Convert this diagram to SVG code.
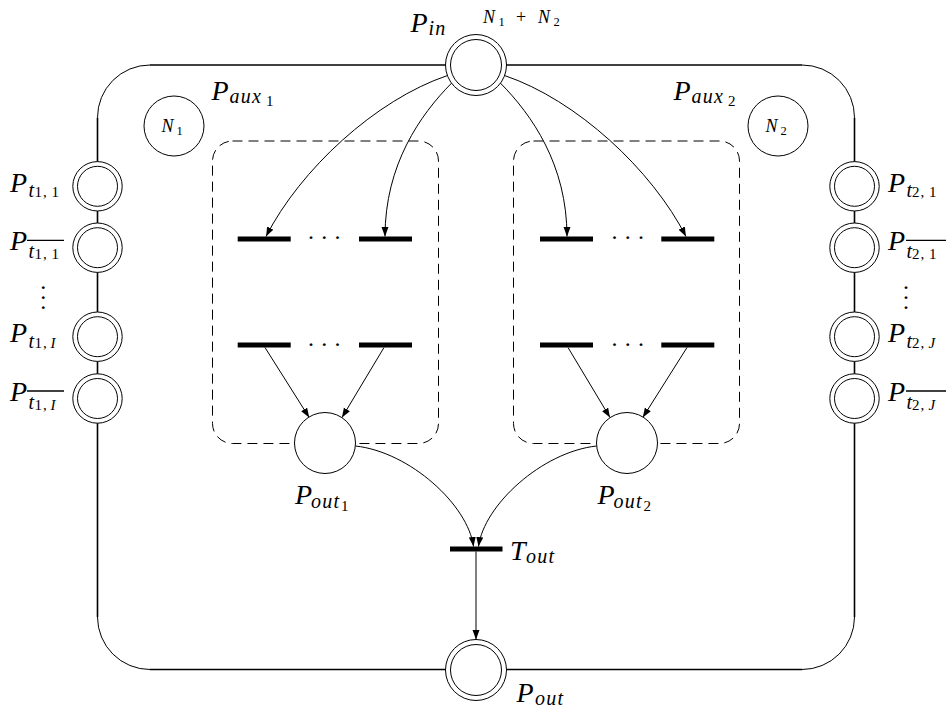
<svg xmlns="http://www.w3.org/2000/svg" width="946" height="713" viewBox="0 0 946 713">
<style>
text{font-family:"Liberation Serif","Times New Roman",serif;font-style:italic;fill:#000}
.m{font-size:28px}
.s{font-size:20px;letter-spacing:1.3px}
.ss{font-size:15px}
.n{font-size:18px}
.ns{font-size:12.5px}
.u{font-style:normal}
.dots{font-style:normal;font-size:24px;text-anchor:middle}
.frame{fill:none;stroke:#000;stroke-width:1.6}
.arc{fill:none;stroke:#000;stroke-width:1}
.place{fill:#fff;stroke:#000;stroke-width:1}
.inner{fill:none;stroke:#000;stroke-width:1}
.bar{fill:#000}
.box{fill:none;stroke:#000;stroke-width:1;stroke-dasharray:10 6}
.arr{fill:none;stroke:#000;stroke-width:1;marker-end:url(#ah)}
.ovl{stroke:#000;stroke-width:1.3}
</style>
<defs>
<marker id="ah" markerUnits="userSpaceOnUse" markerWidth="10" markerHeight="8" refX="9.5" refY="3.5" orient="auto">
<path d="M0,0 L9.5,3.5 L0,7 Z" fill="#000"/>
</marker>
</defs>
<rect width="946" height="713" fill="#fff"/>
<g id="frame">
<line class="frame" x1="150" y1="65" x2="802" y2="65"/>
<line class="frame" x1="150" y1="669.5" x2="802" y2="669.5"/>
<line class="frame" x1="97.5" y1="117.5" x2="97.5" y2="617"/>
<line class="frame" x1="854.5" y1="117.5" x2="854.5" y2="617"/>
<path class="arc" d="M97.5,117.5 A52.5,52.5 0 0 1 150,65"/>
<path class="arc" d="M802,65 A52.5,52.5 0 0 1 854.5,117.5"/>
<path class="arc" d="M854.5,617 A52.5,52.5 0 0 1 802,669.5"/>
<path class="arc" d="M150,669.5 A52.5,52.5 0 0 1 97.5,617"/>
</g>
<g id="box1"><rect class="box" x="212.5" y="141" width="226" height="302.5" rx="20"/></g>
<g id="box2"><rect class="box" x="513.5" y="141" width="226" height="302.5" rx="20"/></g>
<g id="connectors">
<path class="arr" d="M447.5,75.5 C375,100 300,170 266,236.5"/>
<path class="arr" d="M451.7,83 C420,115 385,165 385,236.5"/>
<path class="arr" d="M504.5,75.5 C577,100 652,170 686,236.5"/>
<path class="arr" d="M500.3,83 C532,115 567,165 567,236.5"/>
<line class="arr" x1="265" y1="347.5" x2="309.2" y2="417.5"/>
<line class="arr" x1="384" y1="347.5" x2="342" y2="417.5"/>
<line class="arr" x1="568" y1="347.5" x2="610" y2="417.5"/>
<line class="arr" x1="687" y1="347.5" x2="642.8" y2="417.5"/>
<path class="arr" d="M355.5,446 C410,452 468,505 473.5,546.5"/>
<path class="arr" d="M596.5,446 C542,452 484,505 478.5,546.5"/>
<line class="arr" x1="476" y1="551.5" x2="476" y2="639.5"/>
</g>
<g id="Pin">
<circle class="place" cx="476" cy="65" r="30.5"/><circle class="inner" cx="476" cy="65" r="25.5"/>
<text class="m"><tspan x="410.5" y="31.5">P</tspan><tspan class="s" x="428.5" y="35">in</tspan></text>
<text class="n"><tspan x="483" y="23">N</tspan><tspan class="ns u" x="498.5" y="26">1</tspan><tspan class="u" x="516" y="23">+</tspan><tspan x="538" y="23">N</tspan><tspan class="ns u" x="553.5" y="26">2</tspan></text>
</g>
<g id="Pout">
<circle class="place" cx="476" cy="670" r="30.5"/><circle class="inner" cx="476" cy="670" r="25.5"/>
<text class="m"><tspan x="516.5" y="701.5">P</tspan><tspan class="s" x="535" y="705">out</tspan></text>
</g>
<g id="Paux1">
<circle class="place" cx="174" cy="126" r="30"/>
<text class="n"><tspan x="161.5" y="132">N</tspan><tspan class="ns u" x="176.5" y="135">1</tspan></text>
<text class="m"><tspan x="211.5" y="100">P</tspan><tspan class="s" x="229.5" y="103">aux</tspan><tspan class="ss u" x="266" y="106">1</tspan></text>
</g>
<g id="Paux2">
<circle class="place" cx="778" cy="126" r="30"/>
<text class="n"><tspan x="765.5" y="132">N</tspan><tspan class="ns u" x="780.5" y="135">2</tspan></text>
<text class="m"><tspan x="673.5" y="100">P</tspan><tspan class="s" x="691.5" y="103">aux</tspan><tspan class="ss u" x="728" y="106">2</tspan></text>
</g>
<g id="Pt11">
<circle class="place" cx="97.5" cy="186.3" r="24.7"/><circle class="inner" cx="97.5" cy="186.3" r="20"/>
<text class="m"><tspan x="10" y="191.5">P</tspan><tspan class="s" x="28.5" y="197">t</tspan><tspan class="ss u" x="34.5 43 51.5" y="197">1,1</tspan></text>
</g>
<g id="Pt11bar">
<circle class="place" cx="97.5" cy="247.7" r="24.7"/><circle class="inner" cx="97.5" cy="247.7" r="20"/>
<text class="m"><tspan x="10" y="250">P</tspan><tspan class="s" x="28.5" y="258.3">t</tspan><tspan class="ss u" x="34.5 43 51.5" y="259">1,1</tspan></text>
<line class="ovl" x1="27" y1="240.3" x2="64" y2="240.3"/>
</g>
<g id="Pt1I">
<circle class="place" cx="97.5" cy="336.7" r="24.7"/><circle class="inner" cx="97.5" cy="336.7" r="20"/>
<text class="m"><tspan x="10" y="342">P</tspan><tspan class="s" x="28.5" y="347.5">t</tspan><tspan class="ss u" x="34.5 43" y="347.5">1,</tspan><tspan class="ss" x="50.5" y="347.5">I</tspan></text>
</g>
<g id="Pt1Ibar">
<circle class="place" cx="97.5" cy="398.5" r="24.7"/><circle class="inner" cx="97.5" cy="398.5" r="20"/>
<text class="m"><tspan x="10" y="401">P</tspan><tspan class="s" x="28.5" y="409.2">t</tspan><tspan class="ss u" x="34.5 43" y="410">1,</tspan><tspan class="ss" x="50.5" y="410">I</tspan></text>
<line class="ovl" x1="27" y1="391" x2="64" y2="391"/>
</g>
<g id="Pt21">
<circle class="place" cx="854.5" cy="186.3" r="24.7"/><circle class="inner" cx="854.5" cy="186.3" r="20"/>
<text class="m"><tspan x="888" y="191.5">P</tspan><tspan class="s" x="906.5" y="197">t</tspan><tspan class="ss u" x="912 920.5 929" y="197">2,1</tspan></text>
</g>
<g id="Pt21bar">
<circle class="place" cx="854.5" cy="247.7" r="24.7"/><circle class="inner" cx="854.5" cy="247.7" r="20"/>
<text class="m"><tspan x="888" y="250">P</tspan><tspan class="s" x="906.5" y="258.3">t</tspan><tspan class="ss u" x="912 920.5 929" y="259">2,1</tspan></text>
<line class="ovl" x1="906" y1="240.3" x2="946" y2="240.3"/>
</g>
<g id="Pt2J">
<circle class="place" cx="854.5" cy="336.7" r="24.7"/><circle class="inner" cx="854.5" cy="336.7" r="20"/>
<text class="m"><tspan x="888" y="342">P</tspan><tspan class="s" x="906.5" y="347.5">t</tspan><tspan class="ss u" x="912 920.5" y="347.5">2,</tspan><tspan class="ss" x="928.5" y="347.5">J</tspan></text>
</g>
<g id="Pt2Jbar">
<circle class="place" cx="854.5" cy="398.5" r="24.7"/><circle class="inner" cx="854.5" cy="398.5" r="20"/>
<text class="m"><tspan x="888" y="401">P</tspan><tspan class="s" x="906.5" y="409.2">t</tspan><tspan class="ss u" x="912 920.5" y="410">2,</tspan><tspan class="ss" x="928.5" y="410">J</tspan></text>
<line class="ovl" x1="906" y1="391" x2="946" y2="391"/>
</g>
<g id="vdots">
<text class="dots" x="43.3 43.3 43.3" y="294.5 304.5 314.5">···</text>
<text class="dots" x="906 906 906" y="294.5 304.5 314.5">···</text>
</g>
<g id="T1">
<rect class="bar" x="237.7" y="236.5" width="53" height="5"/>
<rect class="bar" x="359" y="236.5" width="53" height="5"/>
<text class="dots" x="311 324.3 337.5" y="245">···</text>
<rect class="bar" x="237.7" y="342.5" width="53" height="5"/>
<rect class="bar" x="359" y="342.5" width="53" height="5"/>
<text class="dots" x="311 324.3 337.5" y="351.5">···</text>
</g>
<g id="T2">
<rect class="bar" x="540" y="236.5" width="53" height="5"/>
<rect class="bar" x="661.3" y="236.5" width="53" height="5"/>
<text class="dots" x="614.5 627.7 641" y="245">···</text>
<rect class="bar" x="540" y="342.5" width="53" height="5"/>
<rect class="bar" x="661.3" y="342.5" width="53" height="5"/>
<text class="dots" x="614.5 627.7 641" y="351.5">···</text>
</g>
<g id="Pout1">
<circle class="place" cx="325" cy="443" r="30.5"/>
<text class="m"><tspan x="295" y="504">P</tspan><tspan class="s" x="311" y="507.5">out</tspan><tspan class="ss u" x="341" y="511">1</tspan></text>
</g>
<g id="Pout2">
<circle class="place" cx="627" cy="443" r="30.5"/>
<text class="m"><tspan x="597.5" y="504">P</tspan><tspan class="s" x="613.5" y="507.5">out</tspan><tspan class="ss u" x="643.5" y="511">2</tspan></text>
</g>
<g id="Tout">
<rect class="bar" x="450" y="546.5" width="52.5" height="5"/>
<text class="m"><tspan x="510" y="560">T</tspan><tspan class="s" x="526" y="563">out</tspan></text>
</g>
</svg>
